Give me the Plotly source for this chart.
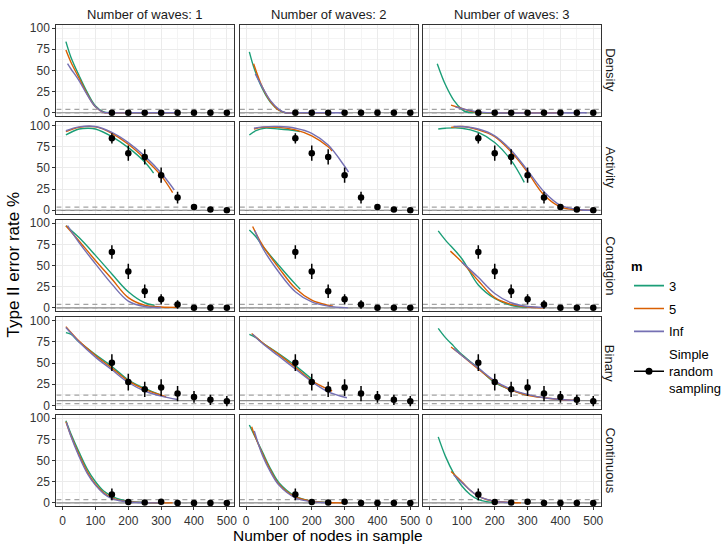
import plotly.graph_objects as go
from plotly.subplots import make_subplots

# ---------------- data ----------------
facet_rows = ["Density", "Activity", "Contagion", "Binary", "Continuous"]
waves = [1, 2, 3]
m_levels = ["3", "5", "Inf"]
m_colors = {"3": "#1B9E77", "5": "#D95F02", "Inf": "#7570B3"}

# fitted curves: {wave: {m: (x, y)}}
density_curves = {
    1: {"3": ([10, 25, 50, 75, 100, 125, 150, 250, 350], [84, 66, 44, 24, 8, 1, 0, 0, 0]),
        "5": ([10, 25, 50, 75, 100, 125, 150, 250, 350], [74, 60, 41, 22, 7, 0.5, 0, 0, 0]),
        "Inf": ([15, 25, 50, 75, 100, 125, 150, 250, 350], [58, 52, 38, 21, 7, 0.5, 0, 0, 0])},
    2: {"3": ([10, 25, 50, 75, 100, 120, 150, 250], [72, 52, 28, 12, 3, 0, 0, 0]),
        "5": ([23, 50, 75, 100, 120, 150, 250], [58, 30, 13, 3, 0, 0, 0]),
        "Inf": ([28, 50, 75, 100, 120, 150, 300], [46, 30, 14, 4, 0, 0, 0])},
    3: {"3": ([25, 50, 75, 100, 110, 150, 300], [58, 33, 15, 4, 1.5, 0, 0]),
        "5": ([67, 100, 125, 150, 200, 400], [9, 5, 2, 0.5, 0, 0]),
        "Inf": ([80, 100, 150, 200, 480], [7, 5, 1, 0, 0])},
}
activity_curves = {
    1: {"3": ([10, 50, 80, 100, 150, 200, 250, 277], [89, 96, 97, 96, 87, 74, 57, 44]),
        "5": ([10, 50, 100, 150, 200, 250, 300, 335], [93, 98, 98.5, 91, 78, 61, 41, 21]),
        "Inf": ([10, 50, 100, 150, 200, 250, 300, 340], [94, 98.5, 99, 92, 80, 64, 44, 24])},
    2: {"3": ([10, 30, 55, 100, 150, 164], [89, 94, 97, 96, 94, 93]),
        "5": ([24, 50, 100, 150, 200, 250, 262], [96, 98, 98, 95, 88, 75, 70]),
        "Inf": ([24, 50, 100, 150, 200, 250, 300, 312], [97, 98.5, 99, 97, 91, 77, 52, 45])},
    3: {"3": ([28, 50, 100, 150, 200, 250, 290], [96, 97, 97, 92, 80, 59, 33]),
        "5": ([67, 100, 150, 200, 250, 300, 350, 400, 450, 500], [98, 99, 95, 87, 69, 45, 18, 4, 0.5, 0]),
        "Inf": ([75, 100, 150, 200, 250, 300, 350, 400, 450, 500], [99, 99, 96, 88, 71, 47, 22, 6, 1, 0])},
}
contagion_curves = {
    1: {"3": ([10, 50, 100, 150, 200, 250, 280], [97, 83, 62, 40, 19, 6, 3]),
        "5": ([10, 50, 100, 150, 200, 250, 300, 350], [97, 79, 56, 34, 12, 3, 1, 0.5]),
        "Inf": ([15, 50, 100, 150, 200, 250, 300], [97, 77, 52, 28, 8, 1.5, 0.5])},
    2: {"3": ([10, 30, 50, 100, 150, 165], [92, 84, 73, 50, 28, 22]),
        "5": ([20, 50, 100, 150, 200, 250, 265], [96, 74, 47, 23, 9, 3, 2]),
        "Inf": ([27, 50, 100, 150, 200, 250, 310], [91, 71, 42, 19, 7, 2, 0])},
    3: {"3": ([28, 50, 100, 150, 200, 250, 300], [91, 80, 58, 27, 11, 3, 0.5]),
        "5": ([65, 100, 150, 200, 250, 300, 350], [67, 54, 32, 12, 4, 1, 0]),
        "Inf": ([100, 150, 200, 250, 300, 350], [54, 36, 17, 6, 1.5, 0.5])},
}
binary_curves = {
    1: {"3": ([10, 25, 50, 100, 150, 200, 250, 300], [86, 84, 75, 60, 46, 30, 20, 12]),
        "5": ([10, 50, 100, 150, 200, 250, 300, 315], [93, 76, 59, 44, 29, 19, 12, 10]),
        "Inf": ([10, 50, 100, 150, 200, 250, 300, 350], [92, 75, 57, 42, 27, 17, 11, 7])},
    2: {"3": ([10, 30, 50, 100, 150, 200], [84, 80, 74, 61, 47, 31]),
        "5": ([17, 50, 100, 150, 200, 250, 262], [85, 74, 60, 45, 29, 19, 17]),
        "Inf": ([20, 50, 100, 150, 200, 250, 307], [84, 73, 58, 43, 28, 16, 9])},
    3: {"3": ([28, 50, 75, 100, 150, 200, 250, 300], [91, 80, 70, 60, 44, 27, 18, 12]),
        "5": ([67, 100, 150, 200, 250, 300, 350, 400, 450], [69, 59, 43, 28, 18, 12, 9, 7, 6]),
        "Inf": ([75, 100, 150, 200, 250, 300, 350, 400, 450], [67, 59, 44, 29, 19, 13, 9, 7, 6])},
}
continuous_curves = {
    1: {"3": ([10, 25, 50, 75, 100, 125, 150, 175, 200, 250, 300], [97, 82, 60, 40, 25, 14, 8, 4, 2, 0.5, 0]),
        "5": ([10, 25, 50, 75, 100, 125, 150, 175, 200, 250, 335], [96, 80, 57, 37, 22, 12, 6, 3, 1.5, 0.3, 0]),
        "Inf": ([12, 25, 50, 75, 100, 125, 150, 175, 200, 250, 300], [95, 79, 55, 35, 21, 11, 5, 2.5, 1, 0.3, 0])},
    2: {"3": ([10, 25, 50, 75, 100, 150, 200, 250], [92, 80, 60, 40, 24, 8, 2, 0.5]),
        "5": ([17, 25, 50, 75, 100, 150, 200, 250, 300], [90, 81, 58, 38, 22, 7, 2, 0.5, 0]),
        "Inf": ([25, 50, 75, 100, 150, 200, 250], [85, 56, 36, 21, 6, 1.5, 0.3])},
    3: {"3": ([28, 50, 75, 100, 125, 150, 175, 200], [78, 55, 35, 20, 10, 4, 1.5, 0.5]),
        "5": ([67, 100, 125, 150, 175, 200, 250, 280], [37, 25, 15, 8, 4, 2, 0.5, 0]),
        "Inf": ([75, 100, 150, 200, 250], [33, 24, 8, 2, 0.5])},
}
curves_by_row = [density_curves, activity_curves, contagion_curves, binary_curves, continuous_curves]

# simple random sampling points (same in each wave column)
srs_x = [150, 200, 250, 300, 350, 400, 450, 500]
srs_density = [0, 0, 0, 0, 0, 0, 0, 0]
srs_density_err = [0.5, 0.5, 0.5, 0.5, 0.5, 0.5, 0.5, 0.5]
srs_activity = [85, 67.5, 63, 41.5, 15, 4, 1, 0]
srs_activity_err = [6, 9, 9, 9, 7, 3.5, 1.5, 0.5]
srs_contagion = [66, 43, 19.5, 10, 4, 0, 0, 0]
srs_contagion_err = [8, 9, 8, 6, 5, 0.5, 0.5, 0.5]
srs_binary = [50.5, 27.5, 19, 21, 14, 10, 6.5, 5]
srs_binary_err = [10, 10, 9, 10, 9, 7, 6, 6]
srs_continuous = [10, 1, 0.5, 1.5, 0, 0, 0, 0]
srs_continuous_err = [7, 1.5, 1, 2, 0.5, 0.5, 0.5, 0.5]
srs_by_row = [(srs_density, srs_density_err), (srs_activity, srs_activity_err),
              (srs_contagion, srs_contagion_err), (srs_binary, srs_binary_err),
              (srs_continuous, srs_continuous_err)]

# reference lines per row: solid nominal value and dashed bounds
ref_solid = [0, 0, 0, 5.5, 0]
ref_dashed = [[0, 4], [0, 3.8], [0, 4], [2, 12], [0, 4]]
ref_span = [-19, 523]

x_ticks = [0, 100, 200, 300, 400, 500]
y_ticks = [0, 25, 50, 75, 100]

# ---------------- figure ----------------
W, H = 727, 549
FONT = "Liberation Sans, Arial, Helvetica, sans-serif"
fig = make_subplots(rows=5, cols=3)

col_px = [(57, 237), (242.5, 422.5), (427.5, 607.5)]
row_top = [22, 120.8, 219.6, 318.4, 417.2]
row_h = 92.6

for r in range(5):
    for c in range(3):
        wave = waves[c]
        # reference lines (drawn first, underneath)
        fig.add_trace(go.Scatter(x=ref_span, y=[ref_solid[r]] * 2, mode="lines",
                                 line=dict(color="#8c8c8c", width=1.2),
                                 showlegend=False, hoverinfo="skip"), row=r + 1, col=c + 1)
        for d in ref_dashed[r]:
            fig.add_trace(go.Scatter(x=ref_span, y=[d, d], mode="lines",
                                     line=dict(color="#a3a3a3", width=1.3, dash="5px,4px"),
                                     showlegend=False, hoverinfo="skip"), row=r + 1, col=c + 1)
        for m in m_levels:
            xs, ys = curves_by_row[r][wave][m]
            fig.add_trace(go.Scatter(
                x=xs, y=ys, mode="lines",
                line=dict(color=m_colors[m], width=1.4, shape="spline", smoothing=1.0),
                name=m, legendgroup=m, showlegend=False, hoverinfo="skip"), row=r + 1, col=c + 1)
        ys, es = srs_by_row[r]
        fig.add_trace(go.Scatter(
            x=srs_x, y=ys, mode="markers",
            marker=dict(color="black", size=6.5),
            error_y=dict(type="data", array=es, visible=True, color="black", thickness=1.5, width=0),
            name="srs", showlegend=False), row=r + 1, col=c + 1)
        x0, x1 = col_px[c]
        top = row_top[r]
        bot = top + row_h
        fig.update_xaxes(
            domain=[x0 / W, x1 / W], range=ref_span,
            tickvals=x_ticks, showticklabels=(r == 4),
            ticks="outside" if r == 4 else "", ticklen=3, tickcolor="#333333",
            tickfont=dict(family=FONT, size=12, color="#333333"),
            showgrid=True, gridcolor="#EBEBEB", gridwidth=1,
            minor=dict(tickvals=[50, 150, 250, 350, 450], showgrid=True, gridcolor="#F4F4F4", gridwidth=0.8),
            showline=True, mirror=True, linecolor="#333333", linewidth=1.3,
            zeroline=False, row=r + 1, col=c + 1)
        fig.update_yaxes(
            domain=[1 - bot / H, 1 - top / H], range=[-4, 104],
            tickvals=y_ticks, showticklabels=(c == 0),
            ticks="outside" if c == 0 else "", ticklen=3, tickcolor="#333333",
            tickfont=dict(family=FONT, size=12, color="#333333"),
            showgrid=True, gridcolor="#EBEBEB", gridwidth=1,
            minor=dict(tickvals=[12.5, 37.5, 62.5, 87.5], showgrid=True, gridcolor="#F4F4F4", gridwidth=0.8),
            showline=True, mirror=True, linecolor="#333333", linewidth=1.3,
            zeroline=False, row=r + 1, col=c + 1)

# legend traces
for i, m in enumerate(m_levels):
    fig.add_trace(go.Scatter(x=[None], y=[None], mode="lines",
                             line=dict(color=m_colors[m], width=1.6),
                             name=m, legendgroup=m, showlegend=True))
fig.add_trace(go.Scatter(x=[None], y=[None], mode="lines+markers",
                         line=dict(color="black", width=1.6),
                         marker=dict(color="black", size=7),
                         name="Simple<br>random<br>sampling", legendgroup="srs", showlegend=True))

annotations = []
for c in range(3):
    x0, x1 = col_px[c]
    annotations.append(dict(text=f"Number of waves: {waves[c]}", x=(x0 + x1) / 2 / W, y=1 - 12 / H,
                            xref="paper", yref="paper", showarrow=False,
                            font=dict(family=FONT, size=13, color="#1a1a1a"),
                            xanchor="center", yanchor="middle"))
for r in range(5):
    top = row_top[r]
    annotations.append(dict(text=facet_rows[r], x=617 / W, y=1 - (top + row_h / 2) / H,
                            xref="paper", yref="paper", showarrow=False, textangle=90,
                            font=dict(family=FONT, size=13, color="#1a1a1a"),
                            xanchor="center", yanchor="middle"))
annotations.append(dict(text="Number of nodes in sample", x=332 / W, y=1 - 549 / H,
                        xref="paper", yref="paper", showarrow=False,
                        font=dict(family=FONT, size=15.5, color="black"),
                        xanchor="center", yanchor="bottom", borderpad=0))
annotations.append(dict(text="Type II error rate %", x=14 / W, y=1 - 265 / H,
                        xref="paper", yref="paper", showarrow=False, textangle=-90,
                        font=dict(family=FONT, size=17, color="black"),
                        xanchor="center", yanchor="middle"))

fig.update_layout(
    width=W, height=H, margin=dict(l=0, r=0, t=0, b=0),
    paper_bgcolor="white", plot_bgcolor="white",
    font=dict(family=FONT, size=13, color="black"),
    annotations=annotations,
    showlegend=True,
    legend=dict(x=636 / W, y=1 - 254 / H, xanchor="left", yanchor="top",
                title=dict(text="<b>m</b>", font=dict(family=FONT, size=13)),
                font=dict(family=FONT, size=13, color="black"),
                traceorder="grouped", tracegroupgap=3, itemwidth=30,
                bgcolor="rgba(0,0,0,0)"),
)

fig.write_html("out.html")
